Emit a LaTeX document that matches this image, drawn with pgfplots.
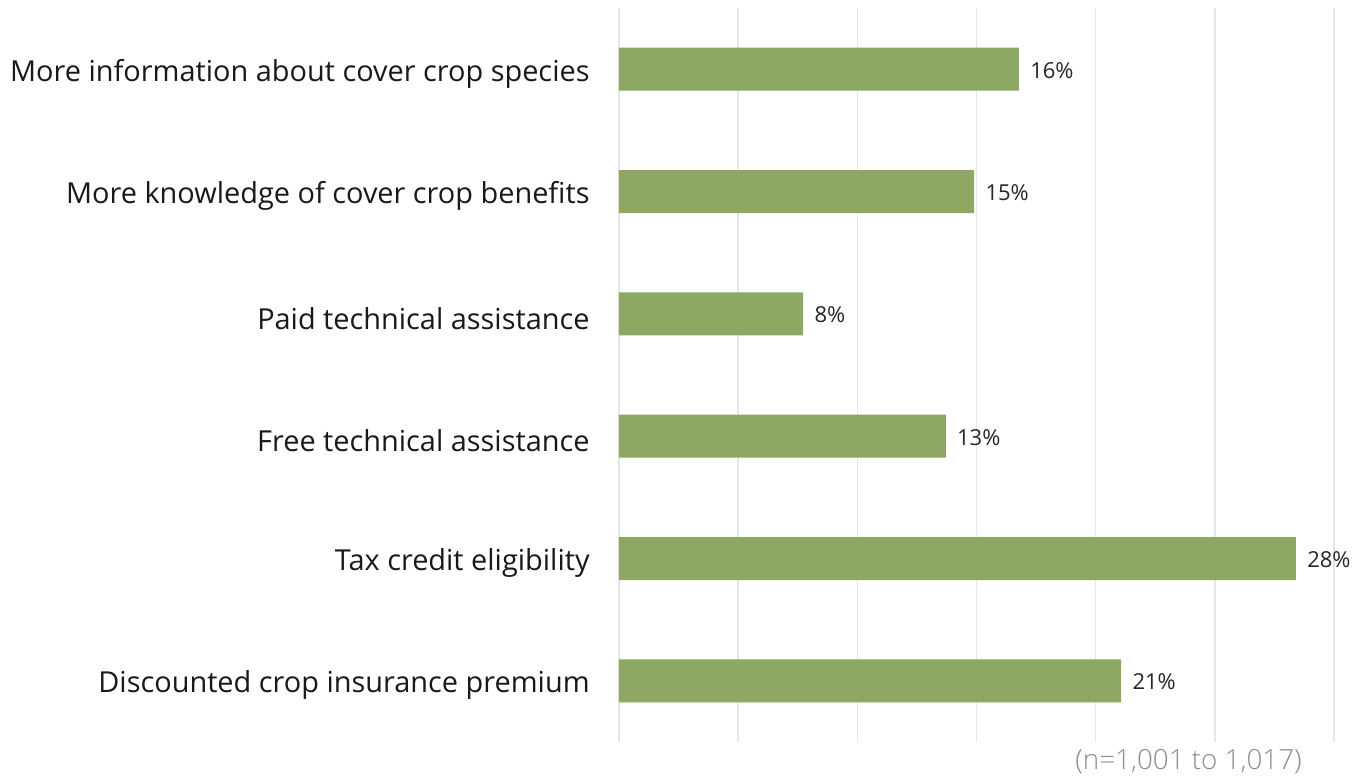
\documentclass[border=0pt]{standalone}
\usepackage{pgfplots}
\pgfplotsset{compat=1.18}
\usepackage{fontspec}
\setmainfont{Open Sans}
\newfontfamily\lightfont{Open Sans Light}
\definecolor{barg}{HTML}{8CA862}
\definecolor{gridc}{HTML}{E6E6E6}
\definecolor{foot}{HTML}{8E8E8E}
\begin{document}
\begin{tikzpicture}
\useasboundingbox (-309.5pt,-17pt) rectangle (370pt,371pt);
\begin{axis}[
  scale only axis,
  width=357.5pt, height=367pt,
  xbar, bar width=21.5pt,
  xmin=0, xmax=30,
  ymin=-0.5, ymax=5.5, y dir=reverse,
  xtick={0,5,...,30}, xticklabels={},
  xmajorgrids, grid style={gridc, line width=0.7pt},
  ytick={0,1,2,3,4,5},
  yticklabels={More information about cover crop species, More knowledge of cover crop benefits, Paid technical assistance, Free technical assistance, Tax credit eligibility, Discounted crop insurance premium},
  yticklabel style={font=\fontsize{14.45}{16}\selectfont, text=black!90, inner sep=0pt, xshift=-14.5pt, yshift=-2.3pt},
  major tick length=0pt,
  axis line style={draw=none},
  point meta=explicit symbolic,
  nodes near coords,
  nodes near coords style={font=\fontsize{11}{13}\selectfont, text=black!85, anchor=west, inner sep=0pt, xshift=5.5pt, yshift=-0.5pt},
  clip=false,
]
\addplot[fill=barg, draw=none] table[meta=lab] {
x y lab
16.78 0 16\%
14.90 1 15\%
7.73 2 8\%
13.71 3 13\%
28.40 4 28\%
21.07 5 21\%
};
\node[anchor=east, inner sep=0pt, font=\lightfont\fontsize{13.9}{16}\selectfont, text=foot] at (axis cs:28.66,5.5) [yshift=-10pt] {(n=1,001 to 1,017)};
\end{axis}
\end{tikzpicture}
\end{document}
